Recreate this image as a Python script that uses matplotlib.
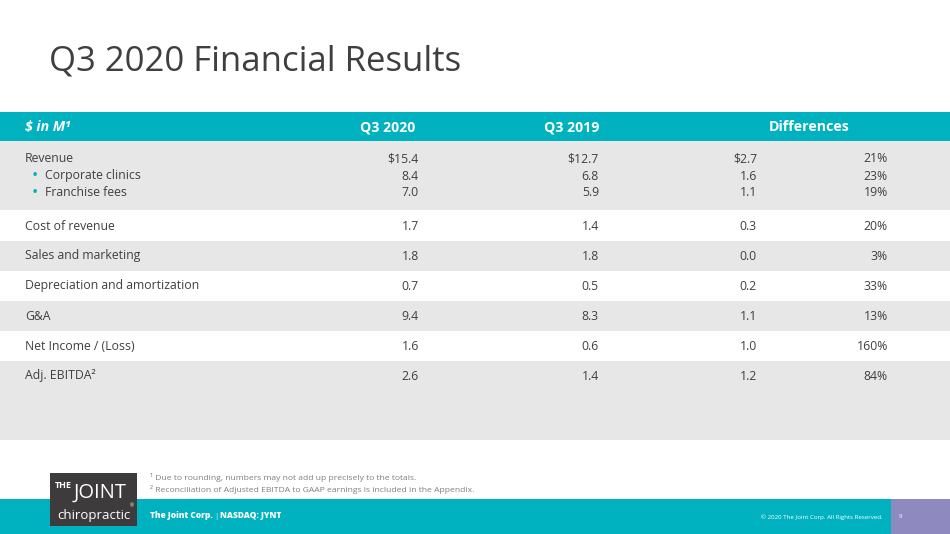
import matplotlib.pyplot as plt
from matplotlib.patches import Rectangle

# table content
row_labels = ['Revenue', 'Corporate clinics', 'Franchise fees', 'Cost of revenue',
              'Sales and marketing', 'Depreciation and amortization', 'G&A',
              'Net Income / (Loss)', 'Adj. EBITDA\u00b2']
is_bullet = [False, True, True, False, False, False, False, False, False]
q3_2020 = ['$15.4', '8.4', '7.0', '1.7', '1.8', '0.7', '9.4', '1.6', '2.6']
q3_2019 = ['$12.7', '6.8', '5.9', '1.4', '1.8', '0.5', '8.3', '0.6', '1.4']
diff_abs = ['$2.7', '1.6', '1.1', '0.3', '0.0', '0.2', '1.1', '1.0', '1.2']
diff_pct = ['21%', '23%', '19%', '20%', '3%', '33%', '13%', '160%', '84%']
headers = ['$ in M\u00b9', 'Q3 2020', 'Q3 2019', 'Differences']
footnotes = ['\u00b9 Due to rounding, numbers may not add up precisely to the totals.',
             '\u00b2 Reconciliation of Adjusted EBITDA to GAAP earnings is included in the Appendix.']

TEAL = '#00B2BF'
GREY = '#E7E7E7'
TXT = '#404040'
FONT = 'Open Sans'

W, H = 950, 534
fig = plt.figure(figsize=(W / 100, H / 100), dpi=100)
ax = fig.add_axes([0, 0, 1, 1])
ax.set_xlim(0, W)
ax.set_ylim(H, 0)
ax.axis('off')

def rect(x, y, w, h, c):
  ax.add_patch(Rectangle((x, y), w, h, facecolor=c, edgecolor='none'))

def txt(x, y, s, **kw):
  kw.setdefault('family', FONT)
  kw.setdefault('color', TXT)
  kw.setdefault('va', 'center')
  kw.setdefault('parse_math', False)
  ax.text(x, y, s, **kw)

# title
txt(49, 62, 'Q3 2020 Financial Results', fontsize=25, color='#3F3F3F')

# header bar
rect(0, 112, W, 29, TEAL)
txt(25, 127, headers[0], fontsize=10.2, color='white', weight='bold', style='italic')
txt(415, 127, headers[1], fontsize=10.2, color='white', weight='bold', ha='right')
txt(599, 127, headers[2], fontsize=10.2, color='white', weight='bold', ha='right')
txt(809, 127, headers[3], fontsize=10.2, color='white', weight='bold', ha='center')

# row bands: (top, height, colour)
bands = [(141, 69, GREY), (210, 31, 'white'), (241, 30, GREY), (271, 30, 'white'),
         (301, 30, GREY), (331, 30, 'white'), (361, 79, GREY)]
for top, hgt, c in bands:
  rect(0, top, W, hgt, c)

row_y = [159, 176, 193, 226, 256, 286, 316, 346, 376]
BODY = 8.8
for i, y in enumerate(row_y):
  if is_bullet[i]:
    txt(32, y, '\u2022', fontsize=12, color=TEAL)
    txt(45, y, row_labels[i], fontsize=BODY)
  else:
    txt(25, y, row_labels[i], fontsize=BODY)
  txt(419, y, q3_2020[i], fontsize=BODY, ha='right')
  txt(599, y, q3_2019[i], fontsize=BODY, ha='right')
  txt(757, y, diff_abs[i], fontsize=BODY, ha='right')
  txt(888, y, diff_pct[i], fontsize=BODY, ha='right')

# footnotes
txt(150, 478, footnotes[0], fontsize=6.1, color='#7F7F7F')
txt(150, 490, footnotes[1], fontsize=6.1, color='#7F7F7F')

# footer
rect(0, 499, W, 35, TEAL)
rect(891, 499, W - 891, 35, '#8E8AC0')
txt(150, 516, 'The Joint Corp.', fontsize=6, color='white', weight='heavy')
txt(214, 516, '|', fontsize=5.5, color='white')
txt(220, 516, 'NASDAQ: JYNT', fontsize=6, color='white', weight='heavy')
txt(883, 517, '\u00a9 2020 The Joint Corp. All Rights Reserved.', fontsize=4.4, color='white', ha='right')
txt(899, 517, '9', fontsize=4.4, color='white')

# logo
rect(50, 473, 87, 53, '#3D3B3C')
txt(55, 485, 'THE', fontsize=6.5, color='white', weight='bold')
txt(74, 493, 'JOINT', fontsize=14.5, color='white')
txt(130, 506, '\u00ae', fontsize=3.5, color='white')
txt(94, 515, 'chiropractic', fontsize=9.5, color='white', ha='center')

fig.savefig('out.png', dpi=100)
